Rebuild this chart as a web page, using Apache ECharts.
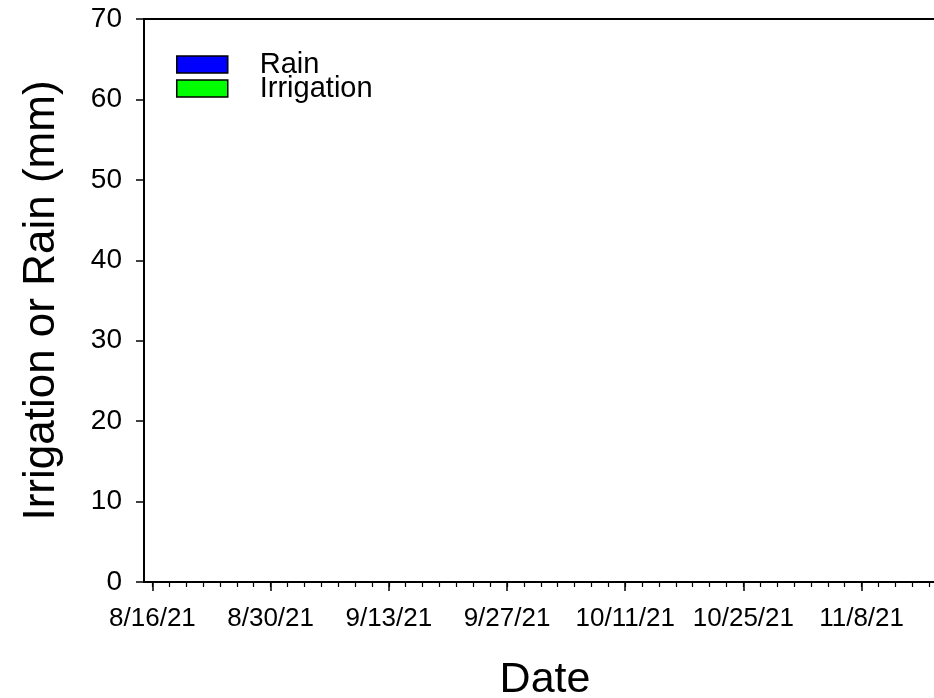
<!DOCTYPE html>
<html>
<head>
<meta charset="utf-8">
<script src="https://cdn.jsdelivr.net/npm/echarts@6/dist/echarts.min.js"></script>
<style>
html,body{margin:0;padding:0;background:#fff;}
#chart{width:934px;height:698px;}
</style>
</head>
<body>
<div id="chart"></div>
<script>
// Axis start date and day range (x = days since 8/15/21)
const startDate = '2021-08-15';
const xMin = 0;
const xMax = 95;
// Major tick days and their labels
const majorTickDays = [1, 15, 29, 43, 57, 71, 85];
const majorTickLabels = ['8/16/21', '8/30/21', '9/13/21', '9/27/21', '10/11/21', '10/25/21', '11/8/21'];
// Minor ticks every 2 days
const minorTickDays = [1,3,5,7,9,11,13,15,17,19,21,23,25,27,29,31,33,35,37,39,41,43,45,47,49,51,53,55,57,59,61,63,65,67,69,71,73,75,77,79,81,83,85,87,89,91,93,95];
// Y axis
const yMin = 0, yMax = 70, yStep = 10;
// Series (no bars visible in the reference)
const rainData = [];
const irrigationData = [];
const seriesNames = ['Rain', 'Irrigation'];

const FONT = 'Liberation Sans, Arial, sans-serif';
const chart = echarts.init(document.getElementById('chart'), null, {renderer: 'canvas'});
const labelMap = {};
majorTickDays.forEach((d, i) => { labelMap[d] = majorTickLabels[i]; });

const option = {
  animation: false,
  backgroundColor: '#fff',
  grid: {
    left: 144, top: 19, right: -12, bottom: 116,
    outerBoundsMode: 'none', containLabel: false,
    show: true, borderColor: '#000', borderWidth: 2, backgroundColor: 'transparent'
  },
  legend: {
    left: 171, top: 45,
    orient: 'vertical',
    itemWidth: 51, itemHeight: 17, itemGap: -5,
    icon: 'rect',
    data: seriesNames,
    itemStyle: {borderColor: '#000', borderWidth: 1.5},
    textStyle: {fontFamily: FONT, fontSize: 29, color: '#000', padding: [0, 0, 0, 27]}
  },
  xAxis: [{
    type: 'value', min: xMin, max: xMax,
    name: 'Date', nameLocation: 'middle', nameGap: 77,
    nameTextStyle: {fontFamily: FONT, fontSize: 43, color: '#000'},
    axisLine: {show: true, onZero: false, lineStyle: {color: '#000', width: 2}},
    axisTick: {show: true, length: 9, customValues: majorTickDays, lineStyle: {color: '#000', width: 1.5}},
    axisLabel: {show: true, customValues: majorTickDays, margin: 24, fontFamily: FONT, fontSize: 26, color: '#000',
      formatter: v => labelMap[v] || ''},
    splitLine: {show: false}
  }, {
    type: 'value', min: xMin, max: xMax, position: 'bottom',
    axisLine: {show: false},
    axisTick: {show: true, length: 5, customValues: minorTickDays, lineStyle: {color: '#000', width: 1.2}},
    axisLabel: {show: false},
    splitLine: {show: false}
  }],
  yAxis: {
    type: 'value', min: yMin, max: yMax, interval: yStep,
    name: 'Irrigation or Rain (mm)', nameLocation: 'middle', nameGap: 80, nameRotate: 90,
    nameTextStyle: {fontFamily: FONT, fontSize: 44, color: '#000'},
    axisLine: {show: true, lineStyle: {color: '#000', width: 2}},
    axisTick: {show: true, length: 8, lineStyle: {color: '#000', width: 1.5}},
    axisLabel: {margin: 22, fontFamily: FONT, fontSize: 28, color: '#000'},
    splitLine: {show: false}
  },
  series: [
    {name: seriesNames[0], type: 'bar', data: rainData, itemStyle: {color: '#0000ff', borderColor: '#000', borderWidth: 1.5}},
    {name: seriesNames[1], type: 'bar', data: irrigationData, itemStyle: {color: '#00ff00', borderColor: '#000', borderWidth: 1.5}}
  ]
};
chart.setOption(option);
</script>
</body>
</html>
